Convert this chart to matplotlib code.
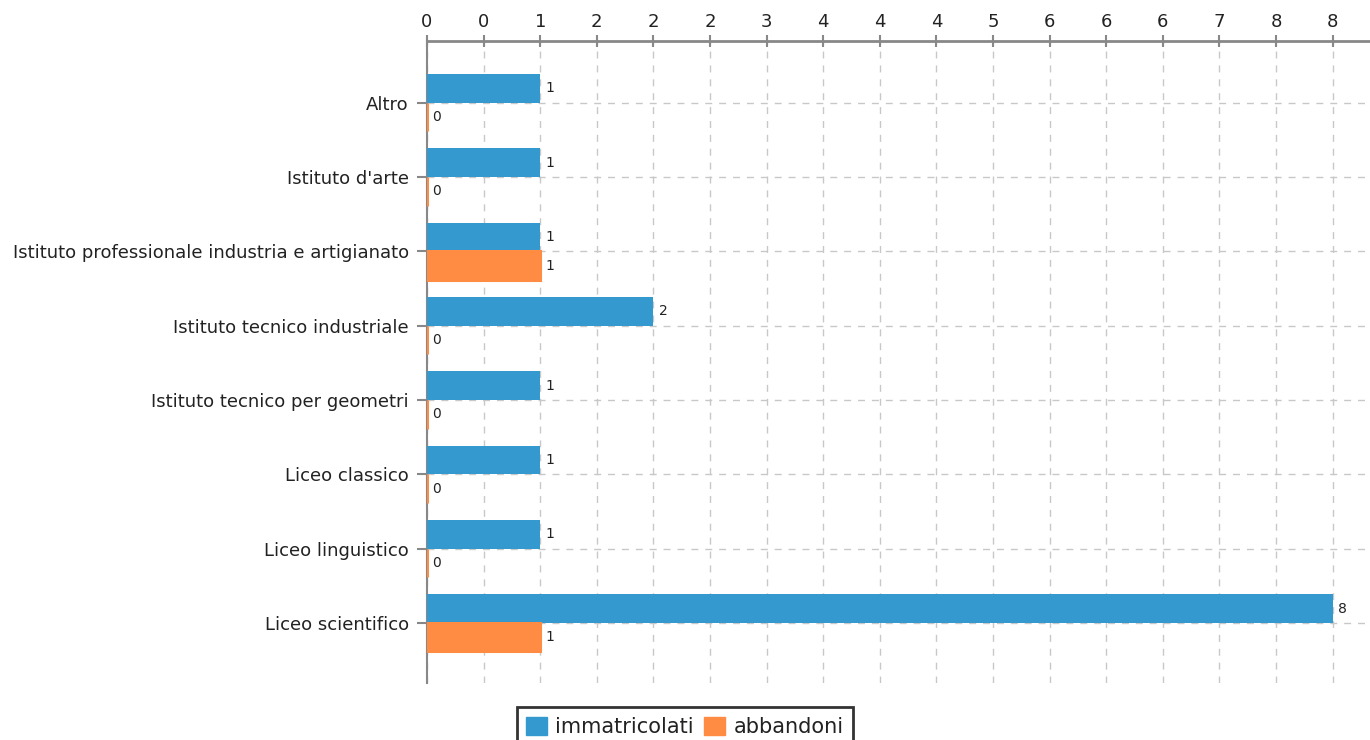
import matplotlib
matplotlib.use("Agg")
import matplotlib.pyplot as plt
from matplotlib.ticker import FuncFormatter, MultipleLocator
from matplotlib.patches import Patch
import numpy as np

plt.rcParams['font.family'] = ['DejaVu Sans']

categories = ['Altro', "Istituto d'arte",
              'Istituto professionale industria e artigianato',
              'Istituto tecnico industriale', 'Istituto tecnico per geometri',
              'Liceo classico', 'Liceo linguistico', 'Liceo scientifico']
immatricolati = [1, 1, 1, 2, 1, 1, 1, 8]
abbandoni = [0, 0, 1, 0, 0, 0, 0, 1]

blue = '#3399cf'
orange = '#ff8c42'
txt = '#222222'
axcol = '#888888'

fig = plt.figure(figsize=(13.7, 7.4), dpi=100)
ax = fig.add_axes([427/1370, 1-683/740, 1-427/1370, (683-41)/740])

y = np.arange(len(categories))
h = 0.385
ax.barh(y - h/2, immatricolati, height=h, color=blue, zorder=3)
# edge keeps zero-value bars visible as a thin line at the axis
ax.barh(y + h/2, abbandoni, height=h, color=orange, edgecolor=orange,
        linewidth=2.2, zorder=3)

for yi, v in zip(y, immatricolati):
    ax.text(v + 0.045, yi - h/2, str(v), va='center', ha='left', fontsize=10, color=txt)
for yi, v in zip(y, abbandoni):
    ax.text(v + 0.045, yi + h/2, str(v), va='center', ha='left', fontsize=10, color=txt)

ax.set_xlim(0, 8.33)
ax.set_ylim(7.81, -0.83)
ax.set_yticks(y)
ax.set_yticklabels(categories)
ax.xaxis.set_major_locator(MultipleLocator(0.5))
ax.xaxis.set_major_formatter(FuncFormatter(lambda v, p: '%d' % round(v)))
ax.xaxis.tick_top()

ax.tick_params(axis='x', direction='inout', length=8, width=1.5, color=axcol,
               labelsize=13, labelcolor=txt, pad=3)
ax.tick_params(axis='y', direction='out', length=7, width=1.5, color=axcol,
               labelsize=13, labelcolor=txt, pad=6)

for s in ['right', 'bottom']:
    ax.spines[s].set_visible(False)
ax.spines['top'].set_color(axcol)
ax.spines['top'].set_linewidth(2)
ax.spines['left'].set_color(axcol)
ax.spines['left'].set_linewidth(1.5)
ax.spines['left'].set_zorder(2)

ax.grid(True, color='#c8c8c8', linestyle=(0, (5, 5)), linewidth=1, zorder=0)
ax.set_axisbelow(True)

handles = [Patch(color=blue, label='immatricolati'), Patch(color=orange, label='abbandoni')]
leg = fig.legend(handles=handles, loc='upper center', bbox_to_anchor=(0.5, 1-697/740),
                 ncol=2, fontsize=15, frameon=True, fancybox=False,
                 handlelength=1.0, handleheight=1.0, handletextpad=0.4, columnspacing=0.5,
                 borderpad=0.45)
leg.get_frame().set_edgecolor('black')
leg.get_frame().set_linewidth(2)
for t in leg.get_texts():
    t.set_color(txt)

fig.savefig('out.png', dpi=100)
